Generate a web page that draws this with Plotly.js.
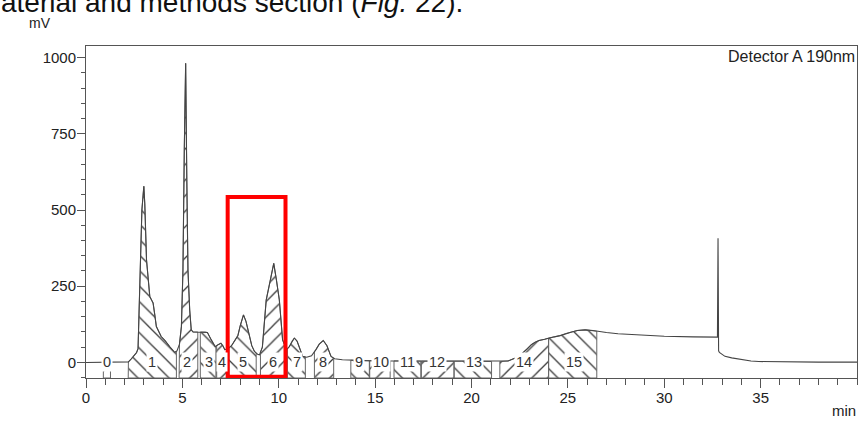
<!DOCTYPE html>
<html><head><meta charset="utf-8">
<script src="https://cdn.plot.ly/plotly-3.0.1.min.js"></script>
<style>html,body{margin:0;padding:0;background:#fff;}#chart{width:859px;height:421px;}</style>
</head><body><div id="chart"></div>
<script>
// ---- data ----
const timeMin = [0,1,2,2.2,2.35,2.5,2.62,2.7,2.75,2.8,2.9,3.0,3.05,3.14,3.25,3.31,3.4,3.48,3.56,3.65,3.9,4.1,4.34,4.6,4.72,4.85,4.95,5.03,5.1,5.17,5.23,5.29,5.38,5.46,5.55,5.9,6.2,6.3,6.5,6.7,6.85,7.0,7.1,7.2,7.35,7.55,7.75,7.88,8.0,8.17,8.3,8.48,8.6,8.74,8.9,9.0,9.15,9.35,9.55,9.74,9.88,10.03,10.2,10.35,10.45,10.55,10.7,10.81,10.95,11.1,11.24,11.45,11.7,11.93,12.1,12.31,12.5,12.71,12.9,13.3,13.8,14.5,15.5,16.5,17.5,18.5,19.5,20.5,21.5,21.9,22.3,22.6,22.9,23.1,23.3,23.5,23.8,24.0,24.3,24.6,24.9,25.2,25.5,25.9,26.3,26.6,27.0,27.6,28.6,30.0,31.5,32.76,32.79,32.82,32.86,33.0,33.15,33.5,34.0,34.5,34.9,36,38,40];
const signalMV = [0,0,0,2,12,22,32,45,150,310,500,578,520,336,255,216,205,195,160,118,85,72,52,33,38,60,118,303,700,981,600,303,172,107,100,100,100,98,74,52,58,63,55,42,45,55,75,88,120,156,135,85,55,36,27,25,50,205,265,325,270,205,74,50,45,52,70,80,70,40,20,17,22,42,60,72,55,20,12,9,7,6,5,5,4,4,4,3,3,5,15,28,45,58,66,72,76,80,84,88,95,100,105,107,105,101,98,94,90,86,84,83,407,38,33,28,20,15,9,5,3,2,1,1];

const peakLabels = ['0','1','2','3','4','5','6','7','8','9','10','11','12','13','14','15'];
const peakStart  = [0.9,2.19,4.83,5.93,6.78,7.42,9.05,10.45,11.85,13.74,14.72,15.98,17.4,19.1,21.47,24.0];
const peakEnd    = [1.27,4.69,5.8,6.74,7.3,8.83,10.3,11.38,12.85,14.7,15.78,17.37,19.09,21.04,24.0,26.5];
const labelTime  = [1.07,3.4,5.24,6.36,7.07,8.14,9.69,10.93,12.31,14.17,15.3,16.68,18.23,20.12,22.7,25.3];
const hatchShape = ['/','\\','/','\\','/','\\','/','\\','/','\\','/','\\','/','\\','/','\\'];

const xTickVals = [0,5,10,15,20,25,30,35];
const yTickVals = [0,250,500,750,1000];
const xRange = [0,40];
const yRange = [-51,1038];
const highlightTime = [7.35,10.35];
const highlightMV = [-47,543];

// ---- build ----
const FONT = 'Liberation Sans, Arial, sans-serif';
function sigAt(t){
  for(let i=0;i<timeMin.length-1;i++){
    if(t>=timeMin[i] && t<=timeMin[i+1]){
      const f=(t-timeMin[i])/(timeMin[i+1]-timeMin[i]);
      return signalMV[i]+f*(signalMV[i+1]-signalMV[i]);
    }
  }
  return signalMV[signalMV.length-1];
}
const traces = [];
peakLabels.forEach((lab,k)=>{
  const s=peakStart[k], e=peakEnd[k], fl=yRange[0];
  const xs=[s,s], ys=[fl,sigAt(s)];
  timeMin.forEach((t,i)=>{ if(t>s && t<e){xs.push(t); ys.push(signalMV[i]);} });
  xs.push(e,e,s); ys.push(sigAt(e),fl,fl);
  traces.push({x:xs,y:ys,type:'scatter',mode:'lines',fill:'toself',
    fillcolor:'rgba(0,0,0,0)',
    fillpattern:{shape:hatchShape[k],size:11,solidity:0.12,fgcolor:'#3a3a3a',bgcolor:'rgba(255,255,255,0)',fillmode:'replace'},
    line:{color:'#666',width:1},hoverinfo:'skip'});
});
traces.push({x:timeMin,y:signalMV,type:'scatter',mode:'lines',line:{color:'#444',width:1.1},hoverinfo:'skip'});

const annotations = peakLabels.map((lab,k)=>({x:labelTime[k],y:3,xref:'x',yref:'y',text:lab,showarrow:false,
  bgcolor:'white',borderpad:1,font:{family:FONT,size:14.5,color:'#333'}}));
annotations.push(
  {xref:'paper',yref:'paper',x:-0.113,y:1.078,xanchor:'left',yanchor:'bottom',showarrow:false,
   text:'aterial and methods section (<i>Fig.</i> 22).',font:{family:FONT,size:28,color:'#111'}},
  {xref:'paper',yref:'paper',x:-0.0597,y:1.068,xanchor:'center',yanchor:'middle',showarrow:false,
   text:'mV',font:{family:FONT,size:14,color:'#222'}},
  {xref:'paper',yref:'paper',x:1.0013,y:-0.0964,xanchor:'right',yanchor:'middle',showarrow:false,
   text:'min',font:{family:FONT,size:15,color:'#222'}},
  {xref:'paper',yref:'paper',x:1.0,y:0.9678,xanchor:'right',yanchor:'middle',showarrow:false,
   text:'Detector A 190nm',font:{family:FONT,size:16,color:'#222'}}
);

const axisCommon = {showline:true,linecolor:'#555',linewidth:1,mirror:true,showgrid:false,zeroline:false,
  ticks:'outside',tickcolor:'#555',tickwidth:1,tickfont:{family:FONT,size:15,color:'#222'}};
const layout = {
  width:859,height:421,margin:{l:86,r:2,t:46,b:43,pad:0},
  paper_bgcolor:'white',plot_bgcolor:'white',showlegend:false,
  font:{family:FONT,color:'#222'},
  xaxis:Object.assign({},axisCommon,{range:xRange,tickmode:'array',tickvals:xTickVals,ticktext:xTickVals.map(String),ticklen:9,
    ticklabelstandoff:-3,
    minor:{tickmode:'linear',tick0:0,dtick:1,ticks:'outside',ticklen:6,tickcolor:'#555',showgrid:false}}),
  yaxis:Object.assign({},axisCommon,{range:yRange,tickmode:'array',tickvals:yTickVals,ticktext:yTickVals.map(String),ticklen:8,
    ticklabelstandoff:-2,
    minor:{tickmode:'linear',tick0:0,dtick:50,ticks:'outside',ticklen:4,tickcolor:'#555',showgrid:false}}),
  shapes:[{type:'rect',xref:'x',yref:'y',x0:highlightTime[0],x1:highlightTime[1],y0:highlightMV[0],y1:highlightMV[1],
    line:{color:'#ff0000',width:4},fillcolor:'rgba(0,0,0,0)',layer:'above'}],
  annotations:annotations
};
Plotly.newPlot('chart',traces,layout,{staticPlot:true,displayModeBar:false});
</script></body></html>
